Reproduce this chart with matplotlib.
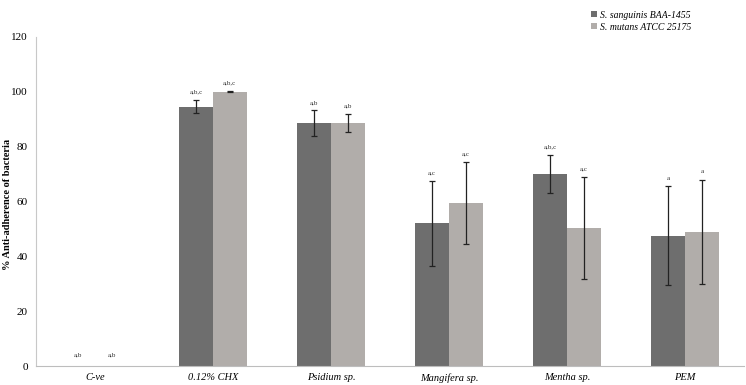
import numpy as np
import matplotlib.pyplot as plt

# data
categories = ['C-ve', '0.12% CHX', 'Psidium sp.', 'Mangifera sp.', 'Mentha sp.', 'PEM']
sanguinis = [0, 94.5, 88.6, 52.0, 70.0, 47.5]
sanguinis_err = [0, 2.4, 4.6, 15.4, 7.0, 18.0]
mutans = [0, 100.0, 88.6, 59.5, 50.5, 49.0]
mutans_err = [0, 0.2, 3.4, 15.0, 18.6, 19.0]
sanguinis_sig = ['a,b', 'a,b,c', 'a,b', 'a,c', 'a,b,c', 'a']
mutans_sig = ['a,b', 'a,b,c', 'a,b', 'a,c', 'a,c', 'a']

plt.rcParams['font.family'] = ['Liberation Serif', 'DejaVu Serif']

fig = plt.figure(figsize=(7.46, 3.85), dpi=100)
ax = fig.add_axes([36/746, 19/385, 708/746, 329/385])

x = np.arange(len(categories))
w = 0.285
dark = '#6e6e6e'
light = '#b1adaa'

ax.bar(x - w/2, sanguinis, w, color=dark, label='S. sanguinis BAA-1455')
ax.bar(x + w/2, mutans, w, color=light, label='S. mutans ATCC 25175')

# error bars only where there is a bar
ekw = dict(fmt='none', ecolor='#222222', elinewidth=0.9, capsize=2, capthick=0.9)
for xs, vals, errs in [(x - w/2, sanguinis, sanguinis_err), (x + w/2, mutans, mutans_err)]:
    keep = [i for i in range(len(vals)) if vals[i] > 0]
    ax.errorbar(xs[keep], np.array(vals)[keep], yerr=np.array(errs)[keep], **ekw)

# significance letters above error bars
for i in range(len(categories)):
    yd = sanguinis[i] + sanguinis_err[i] + 2 if sanguinis[i] > 0 else 3
    ym = mutans[i] + mutans_err[i] + 2 if mutans[i] > 0 else 3
    ax.text(x[i] - w/2, yd, sanguinis_sig[i], ha='center', va='bottom', fontsize=5, color='#333333')
    ax.text(x[i] + w/2, ym, mutans_sig[i], ha='center', va='bottom', fontsize=5, color='#333333')

ax.set_xlim(-0.5, len(categories) - 0.5)
ax.set_ylim(0, 120)
ax.set_yticks(range(0, 121, 20))
ax.set_xticks(x)
ax.set_xticklabels(categories, fontstyle='italic', fontsize=7.5)
ax.tick_params(axis='both', length=0, labelsize=8, pad=6)
ax.tick_params(axis='x', labelsize=7.5, pad=5)
ax.set_ylabel('% Anti-adherence of bacteria', fontsize=7.5, fontweight='bold')
ax.yaxis.set_label_coords(-24/708, 0.49)

for s in ['top', 'right']:
    ax.spines[s].set_visible(False)
ax.spines['left'].set_color('#c8c8c8')
ax.spines['bottom'].set_color('#bdbdbd')

leg = fig.legend(loc='upper left', bbox_to_anchor=(582/746, 0.995), frameon=False,
                 prop={'style': 'italic', 'size': 7}, handlelength=0.6, handleheight=0.6,
                 handletextpad=0.3, labelspacing=0.3)

fig.savefig('out.png', dpi=100)
